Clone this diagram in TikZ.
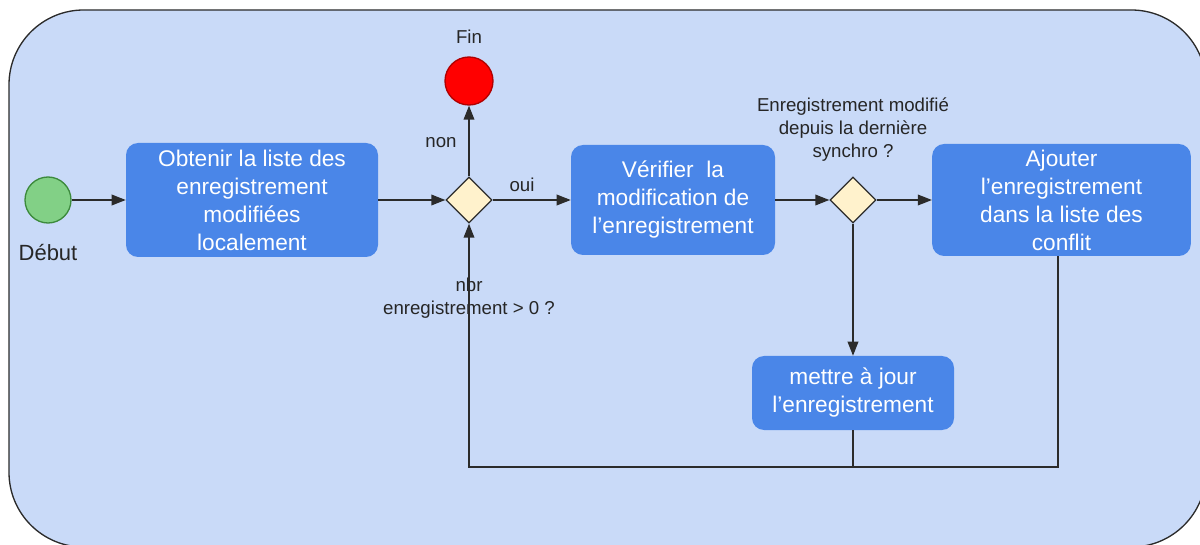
\documentclass[tikz,border=0pt]{standalone}
\usepackage{fontspec}
\setmainfont{Liberation Sans}
\usetikzlibrary{positioning, shapes.geometric, arrows.meta}
\definecolor{fond}{HTML}{C9DAF8}
\definecolor{bleu}{HTML}{4A86E8}
\definecolor{jaune}{HTML}{FFF2CC}
\definecolor{vert}{HTML}{82D086}
\definecolor{vertfonce}{HTML}{3C8A3C}
\definecolor{rouge}{HTML}{FF0000}
\definecolor{rougefonce}{HTML}{B00000}
\definecolor{trait}{HTML}{2B2B2B}

\begin{document}
\begin{tikzpicture}[x=0.75pt, y=-0.75pt,
	etape/.style={rectangle, rounded corners=9pt, fill=bleu, text=white, align=center,
		font=\fontsize{17}{21}\selectfont, inner sep=0pt},
	choix/.style={diamond, draw=trait, fill=jaune, line width=1pt, minimum width=34.5pt,
		minimum height=34.5pt, inner sep=0pt},
	lbl/.style={font=\fontsize{14}{17.25}\selectfont, text=black!85, align=center, inner sep=0pt},
	fleche/.style={->, draw=trait, line width=1pt},
	>={Triangle[length=10.5pt, width=8pt]}]

\useasboundingbox (0,0) rectangle (1200,545);
\draw[fill=fond, draw=trait, line width=1pt, rounded corners=56pt] (9,10) rectangle (1206,547);

% debut et fin
\node[circle, draw=vertfonce, fill=vert, line width=1pt, minimum size=34.5pt] (debut) at (48,200) {};
\node[lbl, font=\fontsize{16.5}{20}\selectfont] (tdebut) at (48,253) {Début};
\node[circle, draw=rougefonce, fill=rouge, line width=1pt, minimum size=36pt] (fin) at (469,81) {};
\node[lbl] (tfin) at (469,37) {Fin};

% etapes
\node[etape, minimum width=189pt, minimum height=85.5pt] (obtenir) at (252,200)
	{Obtenir la liste des\\enregistrement\\modifiées\\localement};
\node[choix] (d1) at (469,200) {};
\node[etape, minimum width=153pt, minimum height=82.5pt] (verifier) at (673,200)
	{Vérifier\ \ la\\modification de\\l’enregistrement};
\node[choix] (d2) at (853,200) {};
\node[etape, minimum width=194pt, minimum height=84pt] (ajouter) at (1061.5,200)
	{Ajouter\\l’enregistrement\\dans la liste des\\conflit};
\node[etape, minimum width=151.5pt, minimum height=55.5pt] (maj) at (853,393)
	{mettre à jour\\l’enregistrement};

% etiquettes
\node[lbl] (non) at (441,143) {non};
\node[lbl] (oui) at (522,185) {oui};
\node[lbl] (nbr) at (469,298) {nbr\\enregistrement > 0 ?};
\node[lbl] (modif) at (853,130) {Enregistrement modifié\\depuis la dernière\\synchro ?};
\coordinate (bas) at (469,467);

\draw[fleche] (debut) -- (obtenir);
\draw[fleche] (obtenir) -- (d1);
\draw[fleche] (d1) -- (fin);
\draw[fleche] (d1) -- (verifier);
\draw[fleche] (verifier) -- (d2);
\draw[fleche] (d2) -- (ajouter);
\draw[fleche] (d2) -- (maj);
\draw[fleche] (ajouter.south -| 1058,0) |- (bas) -- (d1);
\draw[trait, line width=1pt] (maj) -- (maj.south |- bas);

\end{tikzpicture}
\end{document}
